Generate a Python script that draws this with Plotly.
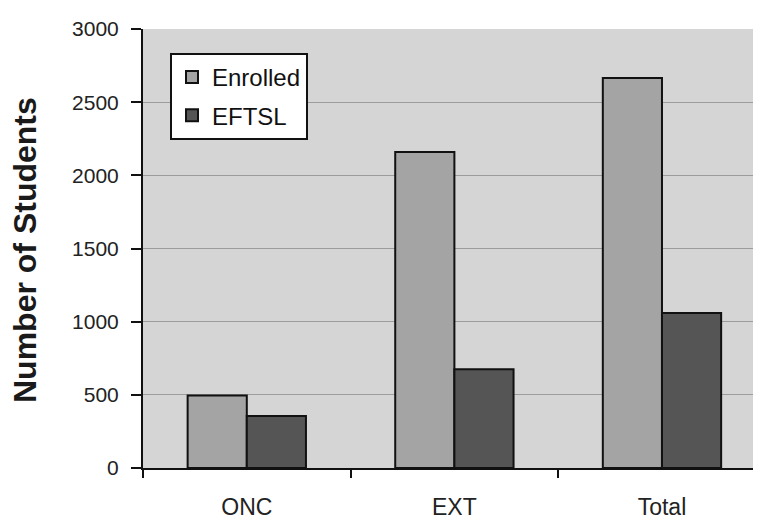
import plotly.graph_objects as go

categories = ["ONC", "EXT", "Total"]
enrolled = [495, 2160, 2665]
eftsl = [355, 675, 1060]
y_ticks = [0, 500, 1000, 1500, 2000, 2500, 3000]

FONT = "Liberation Sans, Arial, sans-serif"

fig = go.Figure()
fig.add_trace(go.Bar(
    name="Enrolled", x=categories, y=enrolled, legendgroup="a",
    marker=dict(color="#a4a4a4", line=dict(color="#111111", width=2)),
))
fig.add_trace(go.Bar(
    name="EFTSL", x=categories, y=eftsl, legendgroup="b",
    marker=dict(color="#555555", line=dict(color="#111111", width=2)),
))

# plot area: 618 px wide (x 143..761 on page), 441 px tall (y 29..470 on page)
fig.add_annotation(
    text="<b>Number of Students</b>", textangle=-90,
    xref="paper", yref="paper", x=-118 / 618, y=(470 - 251) / 441,
    xanchor="center", yanchor="middle", showarrow=False,
    font=dict(family=FONT, size=32, color="#1a1a1a"),
)

fig.update_layout(
    width=753, height=512,
    margin=dict(l=135, r=0, t=21, b=50),
    paper_bgcolor="white",
    plot_bgcolor="#d5d5d5",
    barmode="group",
    bargap=0.43,
    bargroupgap=0,
    font=dict(family=FONT, size=21, color="#222222"),
    showlegend=True,
    legend=dict(
        x=27 / 618, y=(470 - 53) / 441, xanchor="left", yanchor="top",
        bgcolor="white", bordercolor="#111111", borderwidth=2,
        font=dict(family=FONT, size=24, color="#111111"),
        tracegroupgap=4, traceorder="grouped",
        itemwidth=30,
    ),
    xaxis=dict(
        range=[-0.5, 2.477],
        showline=True, linecolor="#111111", linewidth=2,
        ticks="outside", tickson="boundaries", ticklen=8, tickwidth=2, tickcolor="#111111",
        showgrid=False, ticklabelstandoff=17,
        tickfont=dict(family=FONT, size=23, color="#222222"),
    ),
    yaxis=dict(
        range=[0, 3000], tickvals=y_ticks,
        showline=True, linecolor="#111111", linewidth=2,
        ticks="outside", ticklen=10, tickwidth=2, tickcolor="#111111",
        showgrid=True, gridcolor="#9c9c9c", gridwidth=1,
        zeroline=False, ticklabelstandoff=8,
        tickfont=dict(family=FONT, size=21, color="#222222"),
    ),
)

fig.write_html("out.html")
